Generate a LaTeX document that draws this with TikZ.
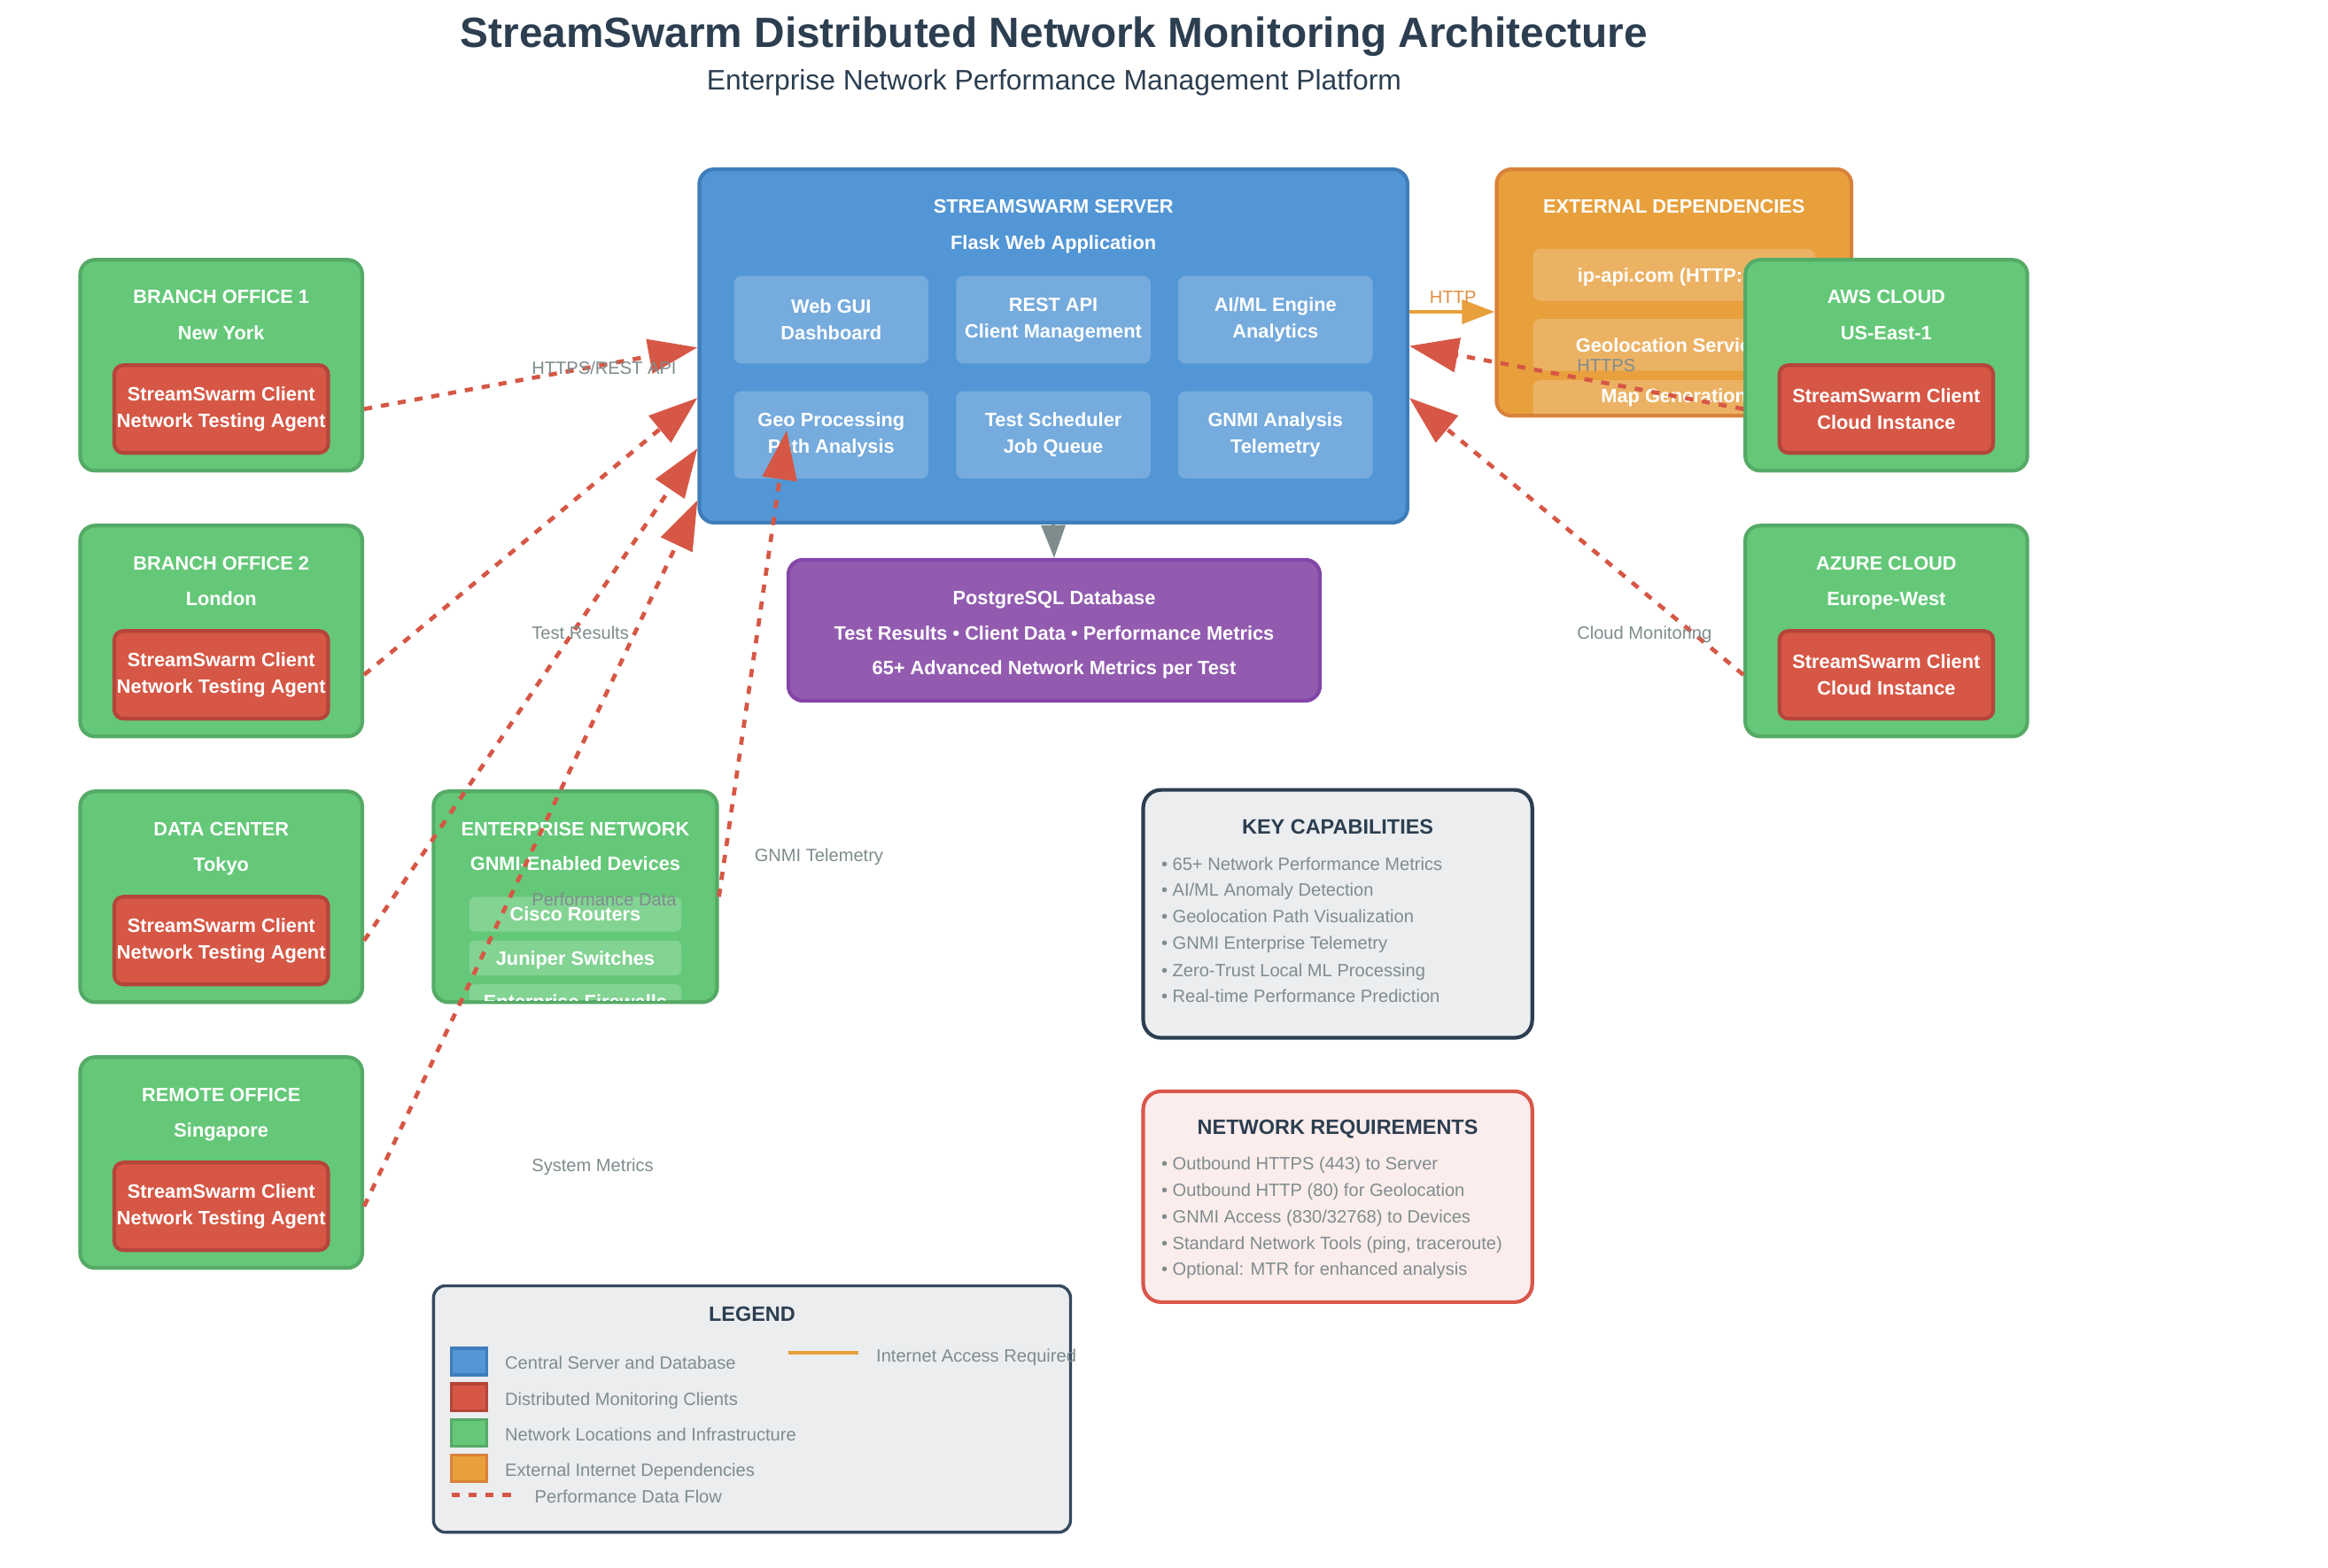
\documentclass[tikz,border=0pt]{standalone}
\usepackage{fontspec}
\setmainfont{Liberation Sans}
\usetikzlibrary{arrows.meta,calc,positioning}

\definecolor{srvblue}{HTML}{5296D5}
\definecolor{srvedge}{HTML}{3F7DBA}
\definecolor{subblue}{HTML}{75ABDD}
\definecolor{dbpurple}{HTML}{925BB0}
\definecolor{dbedge}{HTML}{8445A8}
\definecolor{extorange}{HTML}{E8A03C}
\definecolor{extedge}{HTML}{D9823A}
\definecolor{extrowfill}{HTML}{ECB264}
\definecolor{httptext}{HTML}{E08E45}
\definecolor{sitegreen}{HTML}{64C878}
\definecolor{siteedge}{HTML}{55AA66}
\definecolor{siterowfill}{HTML}{83D393}
\definecolor{clientred}{HTML}{D65745}
\definecolor{clientedge}{HTML}{B5453A}
\definecolor{labelgray}{HTML}{7F8C8D}
\definecolor{darktext}{HTML}{2C3E50}
\definecolor{legendedge}{HTML}{34495E}
\definecolor{panelgray}{HTML}{EBEDEF}
\definecolor{panelpink}{HTML}{FBEDEC}
\definecolor{panelred}{HTML}{D9574A}

\tikzset{
  server/.style={draw=srvedge, fill=srvblue, line width=2.5pt, rounded corners=10pt,
    minimum width=477pt, minimum height=238pt, inner sep=0pt},
  module/.style={fill=subblue, rounded corners=5pt, minimum width=131pt, minimum height=59pt,
    inner sep=0pt, text=white, align=center, font=\bfseries\fontsize{13}{18}\selectfont},
  extbox/.style={draw=extedge, fill=extorange, line width=2.5pt, rounded corners=10pt,
    minimum width=239pt, minimum height=166pt, inner sep=0pt},
  extrow/.style={fill=extrowfill, rounded corners=5pt, minimum width=190pt, minimum height=35pt,
    inner sep=0pt, text=white, font=\bfseries\fontsize{13}{16}\selectfont,
    text height=9.3pt, text depth=0pt},
  dbbox/.style={draw=dbedge, fill=dbpurple, line width=2.5pt, rounded corners=10pt,
    minimum width=358pt, minimum height=95pt, inner sep=0pt},
  site/.style={draw=siteedge, fill=sitegreen, line width=2.5pt, rounded corners=10pt,
    minimum width=190pt, minimum height=142pt, inner sep=0pt},
  client/.style={draw=clientedge, fill=clientred, line width=2.5pt, rounded corners=6pt,
    minimum width=144pt, minimum height=59pt, inner sep=0pt, text=white, align=center,
    font=\bfseries\fontsize{13}{18}\selectfont},
  devrow/.style={fill=siterowfill, rounded corners=4pt, minimum width=143pt, minimum height=23.4pt,
    inner sep=0pt, text=white, font=\bfseries\fontsize{13}{16}\selectfont,
    text height=9.3pt, text depth=0pt},
  boxtext/.style={text=white, font=\bfseries\fontsize{13}{16}\selectfont, inner sep=0pt,
    text height=9.3pt, text depth=0pt},
  boxlines/.style={text=white, font=\bfseries\fontsize{13}{23.4}\selectfont, inner sep=0pt,
    align=center},
  lbl/.style={text=labelgray, font=\fontsize{12}{14}\selectfont, inner sep=0pt,
    text height=8.6pt, text depth=0pt, anchor=west},
  panel/.style={fill=panelgray, draw=darktext, line width=2.5pt, rounded corners=12pt, inner sep=0pt},
  paneltitle/.style={text=darktext, font=\bfseries\fontsize{14}{17}\selectfont, inner sep=0pt,
    text height=10pt, text depth=0pt},
  swatch/.style={minimum width=24pt, minimum height=18pt, inner sep=0pt, line width=2pt},
  flow/.style={draw=clientred, line width=2.8pt, dash pattern=on 5.5pt off 6pt,
    -{Triangle[length=33pt,width=23pt]}},
  web/.style={draw=extorange, line width=2.5pt, -{Triangle[length=22pt,width=16pt]}},
  store/.style={draw=labelgray, line width=2pt, -{Triangle[length=22pt,width=16pt]}}
}

\begin{document}
\begin{tikzpicture}[x=1pt, y=-1pt]
    % page
    \fill[white] (0,0) rectangle (1568,1056.07);
    \useasboundingbox (0,0) rectangle (1568,1056.07);

    % Title
    \node[font=\bfseries\fontsize{28.5}{34}\selectfont, text=darktext, inner sep=0pt,
      text height=20.4pt, text depth=0pt] (title) at (710,22)
      {StreamSwarm Distributed Network Monitoring Architecture};
    \node[font=\fontsize{19}{23}\selectfont, text=darktext, inner sep=0pt,
      text height=13.6pt, text depth=0pt] (subtitle) at (710,54)
      {Enterprise Network Performance Management Platform};

    % StreamSwarm server
    \node[server] (srv) at (709.5,233) {};
    \node[boxtext] (srvTitle) at (709.5,139) {STREAMSWARM SERVER};
    \node[boxtext] (srvSub) at (709.5,163.6) {Flask Web Application};
    \node[module] (gui) at (559.85,215.35) {Web GUI\\Dashboard};
    \node[module, right=18.2pt of gui] (api) {REST API\\Client Management};
    \node[module, right=18.2pt of api] (aiml) {AI/ML Engine\\Analytics};
    \node[module, below=18.2pt of gui] (geo) {Geo Processing\\Path Analysis};
    \node[module, right=18.2pt of geo] (sched) {Test Scheduler\\Job Queue};
    \node[module, right=18.2pt of sched] (gnmi) {GNMI Analysis\\Telemetry};

    % External dependencies
    \node[extbox] (ext) at (1127.5,197) {};
    \node[boxtext] (extTitle) at (1127.5,139) {EXTERNAL DEPENDENCIES};
    \begin{scope}
      \clip[rounded corners=8pt] ($(ext.south west)+(2.5,-2.5)$) rectangle ($(ext.north east)+(-2.5,2.5)$);
      \node[extrow] (ipapi) at (1127.5,185.1) {ip-api.com (HTTP:80)};
      \node[extrow] (geoloc) at (1127.5,232.3) {Geolocation Services};
      \node[extrow] (mapgen) at (1127.5,273.6) {};
      \node[boxtext] (mapgenText) at (1127.5,266.7) {Map Generation};
    \end{scope}

    % PostgreSQL database
    \node[dbbox] (db) at (710,424.5) {};
    \node[boxlines] (dbText) at (710,427.5)
      {PostgreSQL Database\\Test Results • Client Data • Performance Metrics\\65+ Advanced Network Metrics per Test};

    % Branch office 1
    \node[site] (bo1) at (149,246) {};
    \node[boxtext] (bo1Title) at ($(bo1)+(0,-46)$) {BRANCH OFFICE 1};
    \node[boxtext] (bo1City) at ($(bo1)+(0,-22)$) {New York};
    \node[client] (bo1Cl) at ($(bo1)+(0,29.5)$) {StreamSwarm Client\\Network Testing Agent};

    % Branch office 2
    \node[site] (bo2) at (149,425) {};
    \node[boxtext] (bo2Title) at ($(bo2)+(0,-46)$) {BRANCH OFFICE 2};
    \node[boxtext] (bo2City) at ($(bo2)+(0,-22)$) {London};
    \node[client] (bo2Cl) at ($(bo2)+(0,29.5)$) {StreamSwarm Client\\Network Testing Agent};

    % Data center
    \node[site] (dc) at (149,604) {};
    \node[boxtext] (dcTitle) at ($(dc)+(0,-46)$) {DATA CENTER};
    \node[boxtext] (dcCity) at ($(dc)+(0,-22)$) {Tokyo};
    \node[client] (dcCl) at ($(dc)+(0,29.5)$) {StreamSwarm Client\\Network Testing Agent};

    % Remote office
    \node[site] (ro) at (149,783) {};
    \node[boxtext] (roTitle) at ($(ro)+(0,-46)$) {REMOTE OFFICE};
    \node[boxtext] (roCity) at ($(ro)+(0,-22)$) {Singapore};
    \node[client] (roCl) at ($(ro)+(0,29.5)$) {StreamSwarm Client\\Network Testing Agent};

    % AWS cloud
    \node[site] (aws) at (1270.5,246) {};
    \node[boxtext] (awsTitle) at ($(aws)+(0,-46)$) {AWS CLOUD};
    \node[boxtext] (awsRegion) at ($(aws)+(0,-22)$) {US-East-1};
    \node[client] (awsCl) at ($(aws)+(0,29.5)$) {StreamSwarm Client\\Cloud Instance};

    % Azure cloud
    \node[site] (az) at (1270.5,425) {};
    \node[boxtext] (azTitle) at ($(az)+(0,-46)$) {AZURE CLOUD};
    \node[boxtext] (azRegion) at ($(az)+(0,-22)$) {Europe-West};
    \node[client] (azCl) at ($(az)+(0,29.5)$) {StreamSwarm Client\\Cloud Instance};

    % Enterprise network
    \node[site, minimum width=191pt] (ent) at (387.5,604) {};
    \node[boxtext] (entTitle) at ($(ent)+(0,-46)$) {ENTERPRISE NETWORK};
    \node[boxtext] (entSub) at ($(ent)+(0,-22.5)$) {GNMI-Enabled Devices};
    \begin{scope}
      \clip[rounded corners=8pt] ($(ent.south west)+(2.5,-2.5)$) rectangle ($(ent.north east)+(-2.5,2.5)$);
      \node[devrow] (cisco) at ($(ent)+(0,11.7)$) {Cisco Routers};
      \node[devrow] (juniper) at ($(ent)+(0,41.2)$) {Juniper Switches};
      \node[devrow] (firewall) at ($(ent)+(0,70.6)$) {Enterprise Firewalls};
    \end{scope}

    % Server entry points
    \coordinate (srvIn1) at ($(srv.west)+(0,1)$);
    \coordinate (srvIn2) at ($(srv.west)+(0,35)$);
    \coordinate (srvIn3) at ($(srv.west)+(0,69)$);
    \coordinate (srvIn4) at ($(srv.west)+(0,104)$);
    \coordinate (srvIn5) at (srv.east);
    \coordinate (srvIn6) at ($(srv.east)+(0,35)$);
    \coordinate (geoIn) at ($(geo.center)+(-30,-3)$);
    \coordinate (httpIn) at ($(ext.west)+(0,13)$);

    % Performance data flows
    \draw[flow] (bo1.east |- bo1Cl) -- (srvIn1);
    \draw[flow] (bo2.east |- bo2Cl) -- (srvIn2);
    \draw[flow] (dc.east |- dcCl) -- (srvIn3);
    \draw[flow] (ro.east |- roCl) -- (srvIn4);
    \draw[flow] (aws.west |- awsCl) -- (srvIn5);
    \draw[flow] (az.west |- azCl) -- (srvIn6);
    \draw[flow] (ent.east) -- (geoIn);

    % Internet access and storage
    \draw[web] (srv.east |- httpIn) -- (httpIn);
    \draw[store] (srv.south) -- (db.north);

    % Connector labels
    \node[lbl] (lblRest) at (358,247.7) {HTTPS/REST API};
    \node[lbl] (lblResults) at (358,426) {Test Results};
    \node[lbl] (lblPerf) at (358,606) {Performance Data};
    \node[lbl] (lblSys) at (358,785) {System Metrics};
    \node[lbl] (lblGnmi) at (508,576) {GNMI Telemetry};
    \node[lbl] (lblCloud) at (1062,426.3) {Cloud Monitoring};
    \node[lbl] (lblHttps) at (1062,246) {HTTPS};
    \node[lbl, anchor=center, text=httptext] (lblHttp) at (978.6,200) {HTTP};

    % Key capabilities
    \node[panel, minimum width=262pt, minimum height=167pt] (keycap) at (901,615.5) {};
    \node[paneltitle] (keycapTitle) at (901,557) {KEY CAPABILITIES};
    \node[lbl] (kc1) at (782,581.7) {• 65+ Network Performance Metrics};
    \node[lbl] (kc2) at (782,599.5) {• AI/ML Anomaly Detection};
    \node[lbl] (kc3) at (782,617.4) {• Geolocation Path Visualization};
    \node[lbl] (kc4) at (782,635.2) {• GNMI Enterprise Telemetry};
    \node[lbl] (kc5) at (782,653.3) {• Zero-Trust Local ML Processing};
    \node[lbl] (kc6) at (782,670.9) {• Real-time Performance Prediction};

    % Network requirements
    \node[panel, fill=panelpink, draw=panelred, minimum width=262pt, minimum height=142pt] (netreq) at (901,806) {};
    \node[paneltitle] (netreqTitle) at (901,759) {NETWORK REQUIREMENTS};
    \node[lbl] (nr1) at (782,783.5) {• Outbound HTTPS (443) to Server};
    \node[lbl] (nr2) at (782,801.3) {• Outbound HTTP (80) for Geolocation};
    \node[lbl] (nr3) at (782,819.2) {• GNMI Access (830/32768) to Devices};
    \node[lbl] (nr4) at (782,837) {• Standard Network Tools (ping, traceroute)};
    \node[lbl] (nr5) at (782,854.8) {• Optional: MTR for enhanced analysis};

    % Legend
    \node[panel, draw=legendedge, line width=2pt, rounded corners=8pt,
      minimum width=429pt, minimum height=166pt] (legend) at (506.5,949) {};
    \node[paneltitle] (legendTitle) at (506.5,885) {LEGEND};
    \node[swatch, fill=srvblue, draw=srvedge] (swServer) at (316,917) {};
    \node[lbl] (lgServer) at (340,918) {Central Server and Database};
    \node[swatch, fill=clientred, draw=clientedge] (swClient) at (316,941) {};
    \node[lbl] (lgClient) at (340,942) {Distributed Monitoring Clients};
    \node[swatch, fill=sitegreen, draw=siteedge] (swSite) at (316,965) {};
    \node[lbl] (lgSite) at (340,966) {Network Locations and Infrastructure};
    \node[swatch, fill=extorange, draw=extedge] (swExt) at (316,989) {};
    \node[lbl] (lgExt) at (340,990) {External Internet Dependencies};
    \coordinate (lgFlowA) at (304,1007);
    \coordinate (lgFlowB) at (346,1007);
    \draw[clientred, line width=2.8pt, dash pattern=on 5.5pt off 6pt] (lgFlowA) -- (lgFlowB);
    \node[lbl] (lgFlow) at (360,1008) {Performance Data Flow};
    \coordinate (lgWebA) at (531,911);
    \coordinate (lgWebB) at (578,911);
    \draw[extorange, line width=2.5pt] (lgWebA) -- (lgWebB);
    \node[lbl] (lgWeb) at (590,913) {Internet Access Required};
\end{tikzpicture}
\end{document}
